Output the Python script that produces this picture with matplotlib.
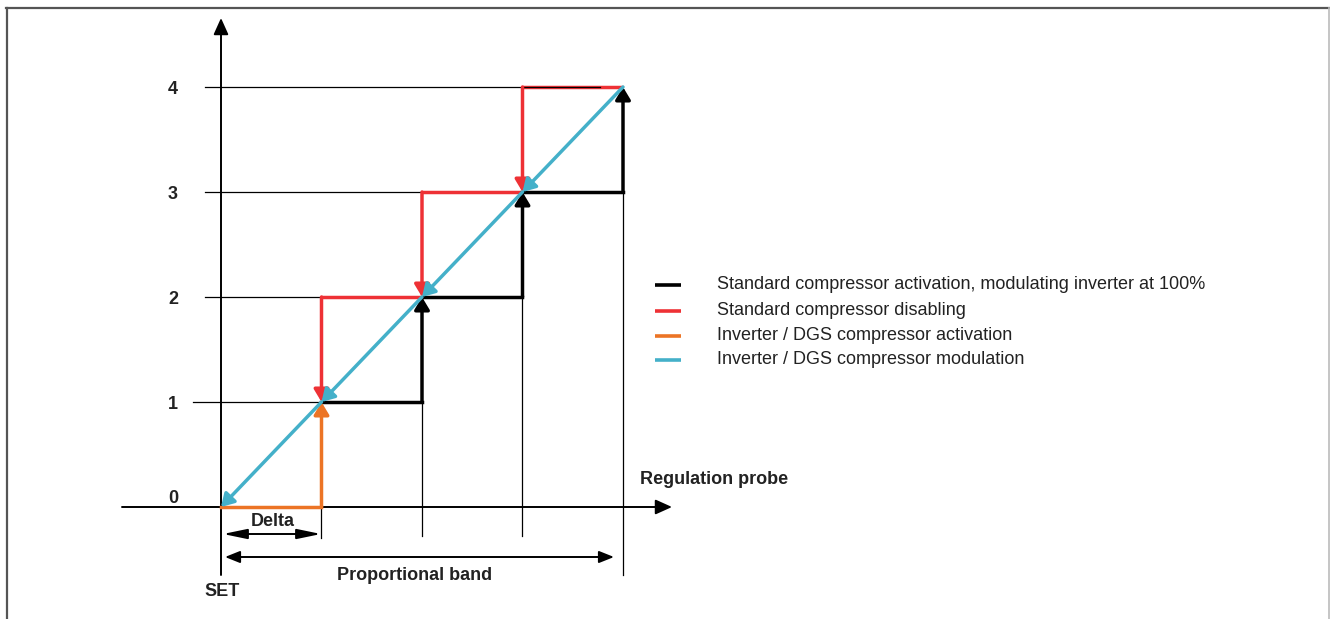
import matplotlib
matplotlib.use("Agg")
import matplotlib.pyplot as plt
from matplotlib.lines import Line2D

plt.rcParams['font.family'] = ['Liberation Sans', 'DejaVu Sans']

# ---- data (diagram units: x in Delta steps from SET, y in compressor steps) ----
levels = [0, 1, 2, 3, 4]
level_labels = ["0", "1", "2", "3", "4"]
step_x = [1, 2, 3, 4]                       # thresholds along the regulation probe
black_steps = [(1, 2), (2, 3), (3, 4)]      # (from level, to level) activation
red_steps = [(4, 3), (3, 2), (2, 1)]        # disabling
orange_step = (0, 1)
cyan_points = [0, 1, 2, 3, 4]
legend_labels = [
    "Standard compressor activation, modulating inverter at 100%",
    "Standard compressor disabling",
    "Inverter / DGS compressor activation",
    "Inverter / DGS compressor modulation",
]
colors = ["#000000", "#EE3135", "#EC7425", "#44B0C9"]

# ---- figure ----
W, H = 1330, 619
fig = plt.figure(figsize=(W / 100, H / 100), dpi=100)
ax = fig.add_axes([0, 0, 1, 1])
X0, Y0, SX, SY = 221, 507, 100.5, 105.0
ax.set_xlim(-X0 / SX, (W - X0) / SX)
ax.set_ylim((Y0 - H) / SY, Y0 / SY)
ax.axis('off')

def px(x):  # pixel -> data x
    return (x - X0) / SX

def py(y):  # pixel -> data y
    return (Y0 - y) / SY

thin = 0.9
thick = 2.5

def arrow(x0, y0, x1, y1, color, lw, hl, hw, both=False, z=3):
    style = ('<|-|>' if both else '-|>') + f',head_length={hl},head_width={hw}'
    ax.annotate('', xy=(x1, y1), xytext=(x0, y0),
                arrowprops=dict(arrowstyle=style, color=color, lw=lw,
                                shrinkA=0, shrinkB=0, mutation_scale=10),
                zorder=z)

# thin level lines
for lv in levels[1:]:
    x_start = px(193) if lv == 1 else px(205)
    x_end = px(600) if lv == 4 else lv
    ax.plot([x_start, x_end], [lv, lv], color='black', lw=thin,
            zorder=2 if lv == 4 else 1)

# thin vertical drop lines
ax.plot([1, 1], [0, py(538)], color='black', lw=thin, zorder=2)
ax.plot([2, 2], [1, py(536)], color='black', lw=thin, zorder=2)
ax.plot([3, 3], [2, py(536)], color='black', lw=thin, zorder=2)
ax.plot([4, 4], [3, py(575)], color='black', lw=thin, zorder=2)

# axes with arrows
arrow(0, py(575), 0, py(18), 'black', 1.4, 1.0, 0.45)
arrow(px(122), 0, px(672), 0, 'black', 1.4, 1.0, 0.45)

# red (disabling) steps
for a, b in red_steps:
    x_hi = step_x[a - 1]
    x_lo = step_x[b - 1]
    ax.plot([x_hi, x_lo], [a, a], color=colors[1], lw=thick, zorder=1.5,
            solid_capstyle='butt')
    arrow(x_lo, a, x_lo, b, colors[1], thick, 0.75, 0.45, z=4)

# black (activation) steps
for a, b in black_steps:
    x_lo = step_x[a - 1]
    x_hi = step_x[b - 1]
    ax.plot([x_lo, x_hi], [a, a], color=colors[0], lw=thick, zorder=3,
            solid_capstyle='projecting')
    arrow(x_hi, a, x_hi, b, colors[0], thick, 0.75, 0.45, z=4)

# orange inverter activation
a, b = orange_step
ax.plot([0, step_x[0]], [a, a], color=colors[2], lw=thick, zorder=3)
arrow(step_x[0], a, step_x[0], b, colors[2], thick, 0.75, 0.45, z=4)

# cyan modulation diagonal
for k in range(len(cyan_points) - 1, 0, -1):
    arrow(cyan_points[k], cyan_points[k], cyan_points[k - 1], cyan_points[k - 1],
          colors[3], thick, 0.75, 0.45, z=5)

# dimension arrows
arrow(px(223), py(534), px(321), py(534), 'black', 1.4, 1.45, 0.3, both=True)
arrow(px(225), py(557), px(614), py(557), 'black', 1.4, 0.9, 0.36, both=True)

# texts
fs = 13
tc = '#222222'
for lv, lab in zip(levels, level_labels):
    yy = lv + (0.085 if lv == 0 else -0.02)
    ax.text(px(173), yy, lab, ha='center', va='center', fontsize=fs,
            fontweight='bold', color=tc)
ax.text(px(273), py(522), "Delta", ha='center', va='center', fontsize=fs,
        fontweight='bold', color=tc)
ax.text(px(415), py(575), "Proportional band", ha='center', va='center',
        fontsize=fs, fontweight='bold', color=tc)
ax.text(px(222), py(592), "SET", ha='center', va='center', fontsize=fs,
        fontweight='bold', color=tc)
ax.text(px(640), py(480), "Regulation probe", ha='left', va='center',
        fontsize=fs, fontweight='bold', color=tc)

# legend
rows_y = [285, 311, 336, 360]
for lab, col, ry in zip(legend_labels, colors, rows_y):
    ax.plot([px(655), px(681)], [py(ry), py(ry)], color=col, lw=2.6,
            solid_capstyle='butt')
    ax.text(px(717), py(ry), lab, ha='left', va='center', fontsize=fs,
            color=tc)

# outer frame
fig.add_artist(Line2D([6 / W, 1], [1 - 7.5 / H, 1 - 7.5 / H], color='#555555', lw=1.6))
fig.add_artist(Line2D([6.5 / W, 6.5 / W], [0, 1 - 7.5 / H], color='#555555', lw=1.6))
fig.add_artist(Line2D([1 - 1 / W, 1 - 1 / W], [0, 1 - 7.5 / H], color='#BBBBBB', lw=1.2))

fig.savefig("out.png", dpi=100)
